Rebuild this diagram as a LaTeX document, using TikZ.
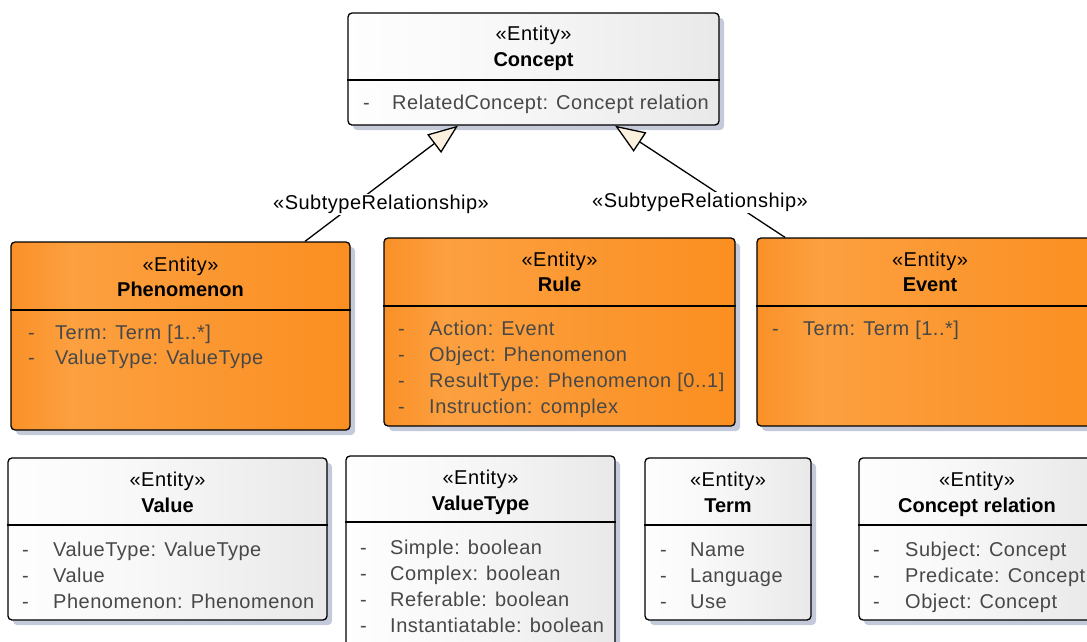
\documentclass[tikz,border=0pt]{standalone}
\usepackage{fontspec}
\setmainfont{Liberation Sans}[LetterSpace=2.5, BoldFeatures={LetterSpace=0}]
\usetikzlibrary{arrows.meta,shadows}
\definecolor{shadowc}{RGB}{196,202,218}
\definecolor{attrc}{RGB}{72,72,72}
\definecolor{tricol}{RGB}{252,240,222}
\definecolor{gA}{RGB}{236,236,236}
\definecolor{gB}{RGB}{240,240,240}
\definecolor{gC}{RGB}{248,248,248}
\definecolor{gD}{RGB}{220,220,220}
\definecolor{oA}{RGB}{251,148,44}
\definecolor{oB}{RGB}{250,140,32}
\definecolor{oC}{RGB}{249,136,26}
\definecolor{oD}{RGB}{252,160,64}
\definecolor{oE}{RGB}{250,132,14}
\pgfdeclarehorizontalshading{whitegloss}{100bp}{color(0bp)=(gA); color(19bp)=(gB); color(21bp)=(white); color(45bp)=(gC); color(100bp)=(gD)}
\pgfdeclarehorizontalshading{orangegloss}{100bp}{color(0bp)=(oA); color(18bp)=(oB); color(20bp)=(oC); color(34bp)=(oD); color(100bp)=(oE)}
\tikzset{
  boxbase/.style={rectangle, rounded corners=4pt, draw=black, line width=1.3pt, inner sep=0pt,
    drop shadow={shadow xshift=5pt, shadow yshift=-5pt, fill=shadowc, opacity=1}},
  wbox/.style={boxbase, shading=whitegloss},
  obox/.style={boxbase, shading=orangegloss},
  divider/.style={line width=1.3pt, draw=black},
  txtbase/.style={font=\fontsize{20}{24}\selectfont, inner sep=0pt, yshift=-4pt},
  stereo/.style={txtbase, text=black, anchor=mid},
  title/.style={txtbase, font=\fontsize{20}{24}\selectfont\bfseries, text=black, anchor=mid},
  dashtxt/.style={txtbase, text=attrc, anchor=mid west},
  attr/.style={txtbase, text=attrc, anchor=mid west},
  gen/.style={line width=1.3pt, draw=black, -{Triangle[length=30pt,width=23pt,fill=tricol]}},
  rel/.style={font=\fontsize{20}{24}\selectfont, text=black, fill=white, inner sep=1pt, anchor=mid, yshift=-3pt},
}
\begin{document}
\begin{tikzpicture}[x=1pt,y=-1pt]
\useasboundingbox (0,0) rectangle (1087,641);
\clip (0,0) rectangle (1087,641);
\fill[white] (0,0) rectangle (1087,641);

% Concept
\node[wbox, minimum width=371pt, minimum height=112pt] (concept) at (533.5,69) {};
\draw[divider] (concept.west |- 0,80) -- (concept.east |- 0,80);
\node[stereo] (conceptS) at (533.5,34) {«Entity»};
\node[title] (conceptT) at (533.5,60) {Concept};
\node[dashtxt] (conceptD1) at (363,103) {-};
\node[attr] (conceptA1) at (392,103) {RelatedConcept: Concept relation};

% Phenomenon
\node[obox, minimum width=339pt, minimum height=188pt] (phen) at (180.5,336) {};
\draw[divider] (phen.west |- 0,310) -- (phen.east |- 0,310);
\node[stereo] (phenS) at (180.5,265) {«Entity»};
\node[title] (phenT) at (180.5,290) {Phenomenon};
\node[dashtxt] (phenD1) at (28,333) {-};
\node[attr] (phenA1) at (55,333) {Term: Term [1..*]};
\node[dashtxt] (phenD2) at (28,358) {-};
\node[attr] (phenA2) at (55,358) {ValueType: ValueType};

% Rule
\node[obox, minimum width=351pt, minimum height=188pt] (rule) at (559.5,332) {};
\draw[divider] (rule.west |- 0,306) -- (rule.east |- 0,306);
\node[stereo] (ruleS) at (559.5,260) {«Entity»};
\node[title] (ruleT) at (559.5,285) {Rule};
\node[dashtxt] (ruleD1) at (398,329) {-};
\node[attr] (ruleA1) at (429,329) {Action: Event};
\node[dashtxt] (ruleD2) at (398,355) {-};
\node[attr] (ruleA2) at (429,355) {Object: Phenomenon};
\node[dashtxt] (ruleD3) at (398,381) {-};
\node[attr] (ruleA3) at (429,381) {ResultType: Phenomenon [0..1]};
\node[dashtxt] (ruleD4) at (398,407) {-};
\node[attr] (ruleA4) at (429,407) {Instruction: complex};

% Event
\node[obox, minimum width=346pt, minimum height=188pt] (event) at (930,332) {};
\draw[divider] (event.west |- 0,306) -- (event.east |- 0,306);
\node[stereo] (eventS) at (930,260) {«Entity»};
\node[title] (eventT) at (930,285) {Event};
\node[dashtxt] (eventD1) at (772,329) {-};
\node[attr] (eventA1) at (803,329) {Term: Term [1..*]};

% Value
\node[wbox, minimum width=319pt, minimum height=162pt] (value) at (167.5,539) {};
\draw[divider] (value.west |- 0,525) -- (value.east |- 0,525);
\node[stereo] (valueS) at (167.5,480) {«Entity»};
\node[title] (valueT) at (167.5,506) {Value};
\node[dashtxt] (valueD1) at (22,550) {-};
\node[attr] (valueA1) at (53,550) {ValueType: ValueType};
\node[dashtxt] (valueD2) at (22,576) {-};
\node[attr] (valueA2) at (53,576) {Value};
\node[dashtxt] (valueD3) at (22,602) {-};
\node[attr] (valueA3) at (53,602) {Phenomenon: Phenomenon};

% ValueType
\node[wbox, minimum width=269pt, minimum height=195pt] (vtype) at (480.5,553.5) {};
\draw[divider] (vtype.west |- 0,522) -- (vtype.east |- 0,522);
\node[stereo] (vtypeS) at (480.5,478) {«Entity»};
\node[title] (vtypeT) at (480.5,504) {ValueType};
\node[dashtxt] (vtypeD1) at (360,548) {-};
\node[attr] (vtypeA1) at (390,548) {Simple: boolean};
\node[dashtxt] (vtypeD2) at (360,574) {-};
\node[attr] (vtypeA2) at (390,574) {Complex: boolean};
\node[dashtxt] (vtypeD3) at (360,600) {-};
\node[attr] (vtypeA3) at (390,600) {Referable: boolean};
\node[dashtxt] (vtypeD4) at (360,626) {-};
\node[attr] (vtypeA4) at (390,626) {Instantiatable: boolean};

% Term
\node[wbox, minimum width=166pt, minimum height=162pt] (term) at (728,539) {};
\draw[divider] (term.west |- 0,525) -- (term.east |- 0,525);
\node[stereo] (termS) at (728,480) {«Entity»};
\node[title] (termT) at (728,506) {Term};
\node[dashtxt] (termD1) at (660,550) {-};
\node[attr] (termA1) at (690,550) {Name};
\node[dashtxt] (termD2) at (660,576) {-};
\node[attr] (termA2) at (690,576) {Language};
\node[dashtxt] (termD3) at (660,602) {-};
\node[attr] (termA3) at (690,602) {Use};

% Concept relation
\node[wbox, minimum width=236pt, minimum height=162pt] (crel) at (977,539) {};
\draw[divider] (crel.west |- 0,525) -- (crel.east |- 0,525);
\node[stereo] (crelS) at (977,480) {«Entity»};
\node[title] (crelT) at (977,506) {Concept relation};
\node[dashtxt] (crelD1) at (873,550) {-};
\node[attr] (crelA1) at (905,550) {Subject: Concept};
\node[dashtxt] (crelD2) at (873,576) {-};
\node[attr] (crelA2) at (905,576) {Predicate: Concept};
\node[dashtxt] (crelD3) at (873,602) {-};
\node[attr] (crelA3) at (905,602) {Object: Concept};

% Generalizations
\draw[gen] (phen.north -| 305,0) -- (concept.south -| 458,0);
\draw[gen] (event.north -| 785,0) -- (concept.south -| 615,0);
\node[rel] (rel1) at (381,204) {«SubtypeRelationship»};
\node[rel] (rel2) at (700,202) {«SubtypeRelationship»};
\end{tikzpicture}
\end{document}
